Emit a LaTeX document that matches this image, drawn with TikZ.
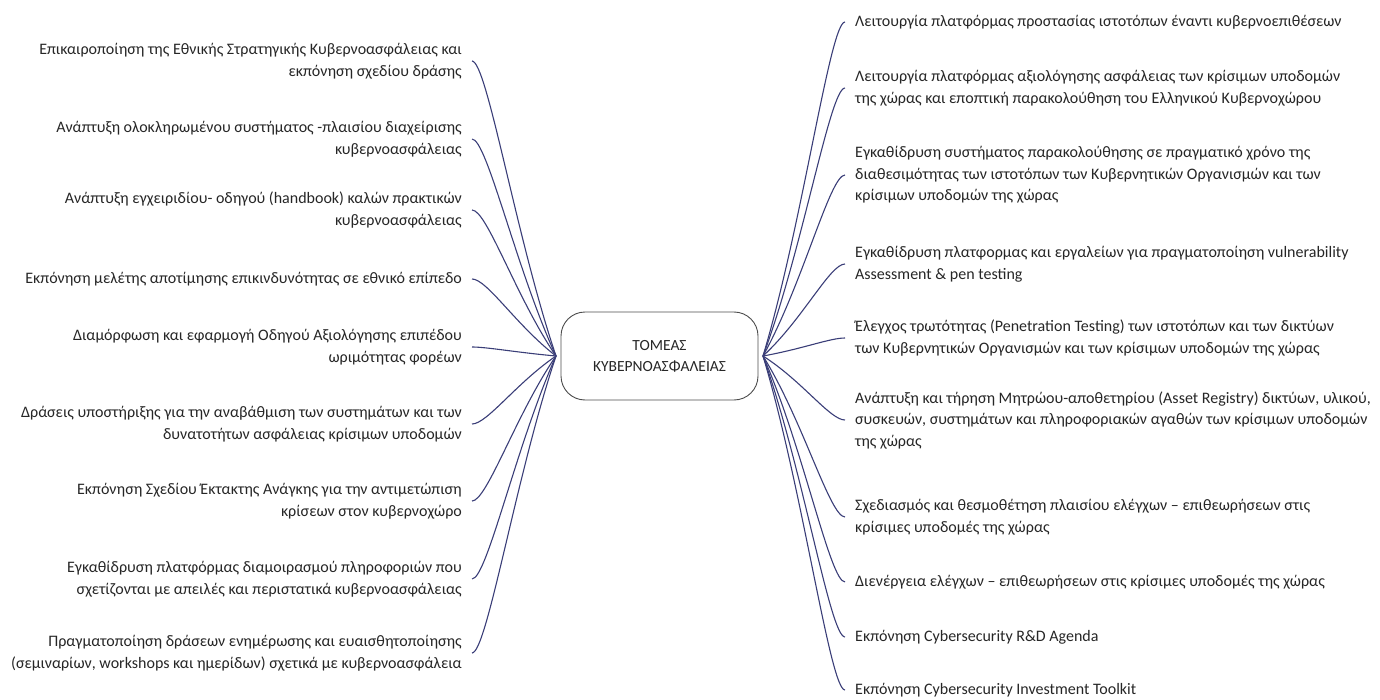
\documentclass[tikz,border=0pt]{standalone}
\usepackage{fontspec}
\setmainfont{Carlito}
\usetikzlibrary{calc}
\definecolor{branch}{RGB}{58,62,120}
\definecolor{txt}{RGB}{38,38,38}
\begin{document}
\begin{tikzpicture}[x=1pt,y=-1pt,
  every node/.style={text=txt,font=\fontsize{16}{21.5}\selectfont},
  lft/.style={anchor=east,align=right,inner xsep=10pt,inner ysep=0pt},
  rgt/.style={anchor=west,align=left,inner xsep=10pt,inner ysep=0pt},
  link/.style={draw=branch,line width=1.1pt}]
\useasboundingbox (0,0) rectangle (1380,700);
\node[draw=black!70,line width=.9pt,rounded corners=24pt,minimum width=197pt,minimum height=88pt,
  outer sep=5pt,align=center,font=\fontsize{15.5}{21}\selectfont] (hub) at (659.5,356) {ΤΟΜΕΑΣ\\ΚΥΒΕΡΝΟΑΣΦΑΛΕΙΑΣ};
% left branch
\node[lft] (l1) at (472,61) {Επικαιροποίηση της Εθνικής Στρατηγικής Κυβερνοασφάλειας και\\εκπόνηση σχεδίου δράσης};
\node[lft] (l2) at (472,139) {Ανάπτυξη ολοκληρωμένου συστήματος -πλαισίου διαχείρισης\\κυβερνοασφάλειας};
\node[lft] (l3) at (472,210) {Ανάπτυξη εγχειριδίου- οδηγού (handbook) καλών πρακτικών\\κυβερνοασφάλειας};
\node[lft] (l4) at (472,279) {Εκπόνηση μελέτης αποτίμησης επικινδυνότητας σε εθνικό επίπεδο};
\node[lft] (l5) at (472,347) {Διαμόρφωση και εφαρμογή Οδηγού Αξιολόγησης επιπέδου\\ωριμότητας φορέων};
\node[lft] (l6) at (472,424) {Δράσεις υποστήριξης για την αναβάθμιση των συστημάτων και των\\δυνατοτήτων ασφάλειας κρίσιμων υποδομών};
\node[lft] (l7) at (472,501) {Εκπόνηση Σχεδίου Έκτακτης Ανάγκης για την αντιμετώπιση\\κρίσεων στον κυβερνοχώρο};
\node[lft] (l8) at (472,579) {Εγκαθίδρυση πλατφόρμας διαμοιρασμού πληροφοριών που\\σχετίζονται με απειλές και περιστατικά κυβερνοασφάλειας};
\node[lft] (l9) at (472,653) {Πραγματοποίηση δράσεων ενημέρωσης και ευαισθητοποίησης\\(σεμιναρίων, workshops και ημερίδων) σχετικά με κυβερνοασφάλεια};
% right branch
\node[rgt] (r1) at (845,22) {Λειτουργία πλατφόρμας προστασίας ιστοτόπων έναντι κυβερνοεπιθέσεων};
\node[rgt] (r2) at (845,88) {Λειτουργία πλατφόρμας αξιολόγησης ασφάλειας των κρίσιμων υποδομών\\της χώρας και εποπτική παρακολούθηση του Ελληνικού Κυβερνοχώρου};
\node[rgt] (r3) at (845,175) {Εγκαθίδρυση συστήματος παρακολούθησης σε πραγματικό χρόνο της\\διαθεσιμότητας των ιστοτόπων των Κυβερνητικών Οργανισμών και των\\κρίσιμων υποδομών της χώρας};
\node[rgt] (r4) at (845,264) {Εγκαθίδρυση πλατφορμας και εργαλείων για πραγματοποίηση vulnerability\\Assessment \& pen testing};
\node[rgt] (r5) at (845,338) {Έλεγχος τρωτότητας (Penetration Testing) των ιστοτόπων και των δικτύων\\των Κυβερνητικών Οργανισμών και των κρίσιμων υποδομών της χώρας};
\node[rgt] (r6) at (845,420) {Ανάπτυξη και τήρηση Μητρώου-αποθετηρίου (Asset Registry) δικτύων, υλικού,\\συσκευών, συστημάτων και πληροφοριακών αγαθών των κρίσιμων υποδομών\\της χώρας};
\node[rgt] (r7) at (845,517) {Σχεδιασμός και θεσμοθέτηση πλαισίου ελέγχων – επιθεωρήσεων στις\\κρίσιμες υποδομές της χώρας};
\node[rgt] (r8) at (845,582) {Διενέργεια ελέγχων – επιθεωρήσεων στις κρίσιμες υποδομές της χώρας};
\node[rgt] (r9) at (845,637) {Εκπόνηση Cybersecurity R\&D Agenda};
\node[rgt] (r10) at (845,690) {Εκπόνηση Cybersecurity Investment Toolkit};
% connectors
\foreach \i in {1,...,9}
  \draw[link] (hub.west) .. controls ($(hub.west)!.4!(hub.west|-l\i.east)+(-40,0)$) and +(15,0) .. (l\i.east);
\foreach \i in {1,...,10}
  \draw[link] (hub.east) .. controls ($(hub.east)!.4!(hub.east|-r\i.west)+(40,0)$) and +(-15,0) .. (r\i.west);
\end{tikzpicture}
\end{document}
